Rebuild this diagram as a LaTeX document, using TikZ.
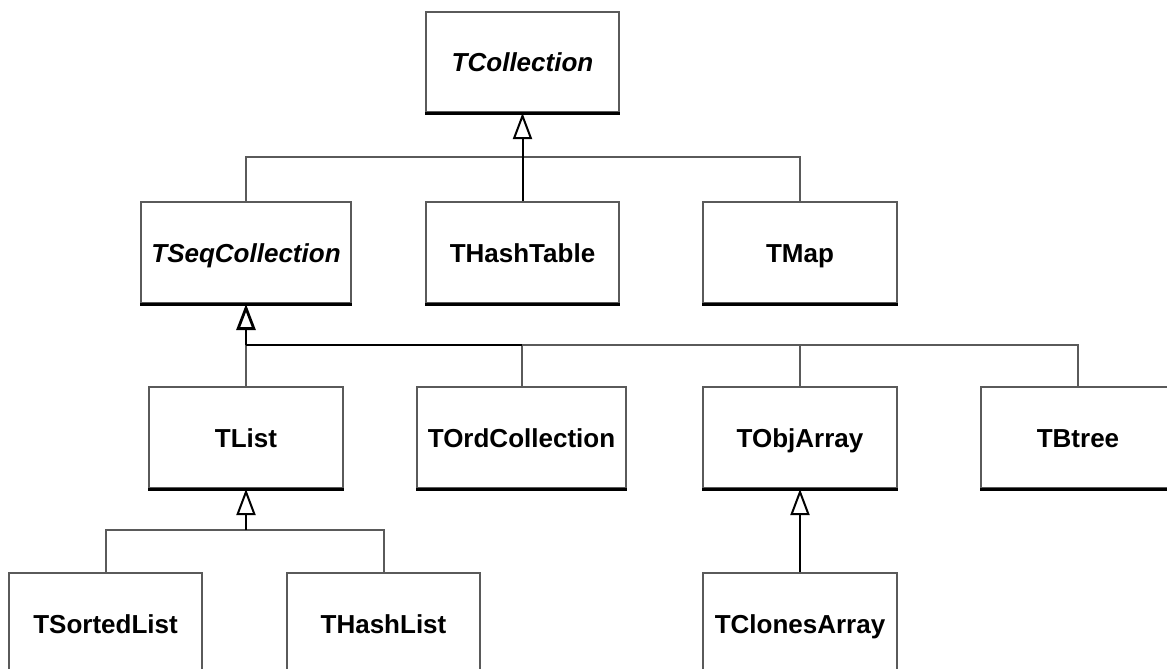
\documentclass[tikz,border=0pt]{standalone}
\usepackage{fontspec}
\setmainfont{Liberation Sans}
\usetikzlibrary{arrows.meta}
\definecolor{edge}{HTML}{5A5A5A}
\begin{document}
\begin{tikzpicture}[x=1pt,y=-1pt,
  cls/.style={draw=edge, line width=2pt, minimum width=194pt, minimum height=101pt,
    inner sep=0pt, text height=19pt, text depth=0pt,
    font=\fontsize{26}{30}\selectfont\bfseries},
  abstr/.style={cls, font=\fontsize{26}{30}\selectfont\bfseries\itshape},
  bottomedge/.style={draw=black, line width=3pt},
  conn/.style={draw=edge, line width=2pt},
  trunk/.style={draw=black, line width=2.8pt},
  inh/.style={draw=black, line width=2pt,
    -{Triangle[open, fill=white, length=26pt, width=19pt]}},
  inhthick/.style={inh, line width=2.8pt}]
\useasboundingbox (0,0) rectangle (1167,669);
\fill[white] (0,0) rectangle (1167,669);

% nodes
\node[abstr, minimum width=193pt, minimum height=100pt] (tcoll) at (522.5,62) {TCollection};
\node[abstr, minimum width=210pt] (tseq) at (246,252.5) {TSeqCollection};
\node[cls, minimum width=193pt] (thash) at (522.5,252.5) {THashTable};
\node[cls] (tmap) at (800,252.5) {TMap};
\node[cls] (tlist) at (246,437.5) {TList};
\node[cls, minimum width=209pt] (tord) at (521.5,437.5) {TOrdCollection};
\node[cls] (tobj) at (800,437.5) {TObjArray};
\node[cls] (tbtree) at (1078,437.5) {TBtree};
\node[cls, minimum width=193pt] (tsorted) at (105.5,623.5) {TSortedList};
\node[cls, minimum width=193pt] (thashlist) at (383.5,623.5) {THashList};
\node[cls] (tclones) at (800,623.5) {TClonesArray};

\foreach \n in {tcoll,tseq,thash,tmap,tlist,tord,tobj,tbtree,tsorted,thashlist,tclones}
  \draw[bottomedge] (\n.south west) -- (\n.south east);

% buses
\coordinate (b1) at (522.5,157);
\coordinate (b2) at (246,345);
\coordinate (b3) at (246,530);

% TCollection hierarchy
\draw[conn] (tseq.north) |- (b1) -| (tmap.north);
\draw[inh] (thash.north) -- (tcoll.south);

% TSeqCollection hierarchy
\draw[conn] (tord.north |- b2) -| (tbtree.north);
\draw[conn] (tord.north) -- (tord.north |- b2);
\draw[conn] (tobj.north) -- (tobj.north |- b2);
\draw[conn] (tlist.north) -- (b2);
\draw[trunk] (tord.north |- b2) -- (b2);
\draw[inhthick] (b2) -- (tseq.south);

% TList hierarchy
\draw[conn] (tsorted.north) |- (b3) -| (thashlist.north);
\draw[inh] (b3) -- (tlist.south);

% TObjArray hierarchy
\draw[inh] (tclones.north) -- (tobj.south);
\end{tikzpicture}
\end{document}
